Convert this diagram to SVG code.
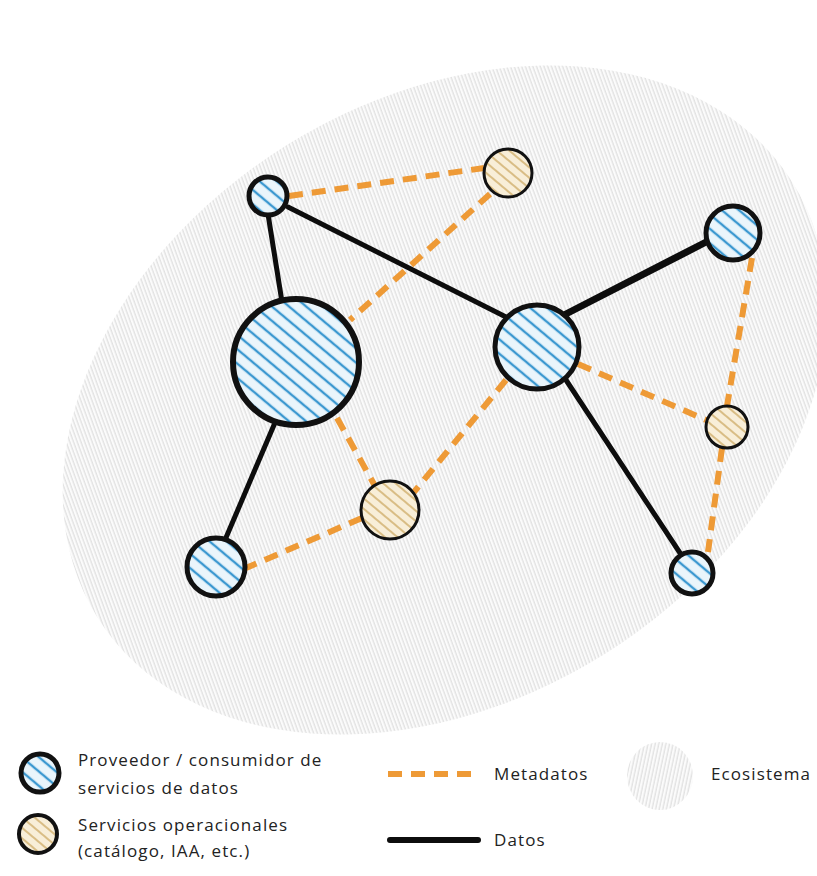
<svg xmlns="http://www.w3.org/2000/svg" width="817" height="876" viewBox="0 0 817 876">
<style>
.eco{fill:url(#ecoHatch);stroke:none}
.prov{fill:url(#blueHatch);stroke:#111;stroke-width:5}
.ops{fill:url(#tanHatch);stroke:#111;stroke-width:3}
.datos{stroke:#0d0d0d;stroke-width:5;stroke-linecap:round;fill:none}
.meta{stroke:#ee9a36;stroke-width:6;stroke-dasharray:14 9;fill:none}
.lbl{font-family:"Open Sans","Liberation Sans",sans-serif;font-size:17px;letter-spacing:1.1px;fill:#222}
</style>
<defs>
<pattern id="ecoHatch" patternUnits="userSpaceOnUse" width="3.5" height="20" patternTransform="rotate(12)">
<rect width="3.5" height="20" fill="#fbfbfb"/>
<line x1="1" y1="0" x2="1" y2="20" stroke="#cdcdcd" stroke-width="0.8"/>
</pattern>
<pattern id="blueHatch" patternUnits="userSpaceOnUse" width="11" height="11" patternTransform="rotate(40)">
<rect width="11" height="11" fill="#eaf5fb"/>
<line x1="0" y1="5" x2="11" y2="5" stroke="#3b98d0" stroke-width="2.4"/>
</pattern>
<pattern id="tanHatch" patternUnits="userSpaceOnUse" width="8" height="8" patternTransform="rotate(40)">
<rect width="8" height="8" fill="#f8eed8"/>
<line x1="0" y1="4" x2="8" y2="4" stroke="#d2b170" stroke-width="1.6"/>
</pattern>
</defs>
<rect width="817" height="876" fill="#ffffff"/>
<g id="ecosistema">
<ellipse class="eco" cx="445" cy="400" rx="410" ry="300" transform="rotate(-32 445 400)"/>
</g>
<g id="connectors">
<line class="datos" x1="268" y1="214" x2="282" y2="302"/>
<line class="datos" x1="288" y1="207" x2="508" y2="318"/>
<line class="datos" x1="274" y1="425" x2="225" y2="540"/>
<line class="datos" x1="562" y1="316" x2="710" y2="240" style="stroke-width:7"/>
<line class="datos" x1="566" y1="380" x2="682" y2="556"/>
<line class="meta" x1="289" y1="196" x2="484" y2="168"/>
<line class="meta" x1="490" y1="194" x2="350" y2="320"/>
<line class="meta" x1="337" y1="418" x2="375" y2="486"/>
<line class="meta" x1="506" y1="380" x2="414" y2="492"/>
<line class="meta" x1="362" y1="518" x2="246" y2="568"/>
<line class="meta" x1="578" y1="364" x2="706" y2="420"/>
<line class="meta" x1="752" y1="258" x2="727" y2="406"/>
<line class="meta" x1="722" y1="448" x2="708" y2="552"/>
</g>
<g id="node-a"><circle class="prov" cx="268" cy="196" r="19"/></g>
<g id="node-b"><circle class="ops" cx="508" cy="173" r="24"/></g>
<g id="node-c"><circle class="prov" cx="296" cy="362" r="63" style="stroke-width:6"/></g>
<g id="node-d"><circle class="prov" cx="537" cy="347" r="42"/></g>
<g id="node-e"><circle class="prov" cx="733" cy="233" r="27"/></g>
<g id="node-f"><circle class="ops" cx="727" cy="427" r="21"/></g>
<g id="node-g"><circle class="ops" cx="390" cy="510" r="29"/></g>
<g id="node-h"><circle class="prov" cx="216" cy="567" r="29"/></g>
<g id="node-i"><circle class="prov" cx="692" cy="573" r="21"/></g>
<g id="legend">
<circle class="prov" cx="40" cy="773" r="19"/>
<text class="lbl" x="78" y="766">Proveedor / consumidor de</text>
<text class="lbl" x="78" y="794">servicios de datos</text>
<circle class="ops" cx="38" cy="834" r="19" style="stroke-width:4"/>
<text class="lbl" x="78" y="831">Servicios operacionales</text>
<text class="lbl" x="78" y="857">(catálogo, IAA, etc.)</text>
<line class="meta" x1="388" y1="774" x2="480" y2="774"/>
<text class="lbl" x="494" y="780">Metadatos</text>
<ellipse class="eco" cx="660" cy="776" rx="33" ry="34"/>
<text class="lbl" x="711" y="780">Ecosistema</text>
<line class="datos" x1="390" y1="840" x2="478" y2="840" style="stroke-width:6"/>
<text class="lbl" x="494" y="846">Datos</text>
</g>
</svg>
